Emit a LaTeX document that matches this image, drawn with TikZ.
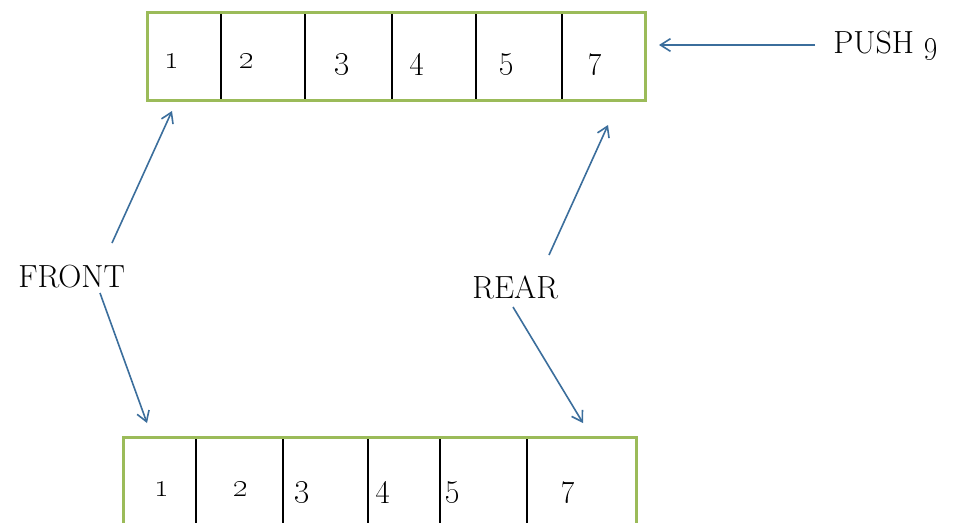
\documentclass[tikz,border=0pt]{standalone}
\usepackage{tikz}
\usetikzlibrary{arrows.meta}

\definecolor{verdeborde}{HTML}{9BBB59}
\definecolor{azulflecha}{HTML}{3B6E9C}

\begin{document}
\begin{tikzpicture}[
            x=0.75pt, y=-0.75pt,                % Coordenadas en pixeles de la imagen
            celda/.style={
                rectangle,
                draw=black,
                line width=1pt,
                inner sep=0pt,
                minimum height=65.25pt
            },
            borde/.style={
                draw=verdeborde,
                line width=2.4pt
            },
            numero/.style={
                anchor=base,
                inner sep=0pt,
                font=\fontsize{24}{28}\selectfont
            },
            etiqueta/.style={
                anchor=base west,
                inner sep=0pt,
                font=\fontsize{24}{28}\selectfont
            },
            flecha/.style={
                draw=azulflecha,
                line width=1.2pt,
                -{Straight Barb[length=7.5pt, width=9.5pt]}
            }
        ]
            \useasboundingbox (0,0) rectangle (963,522);
            \fill[white] (0,0) rectangle (963,522);
            \clip (0,0) rectangle (963,522);

            % --- COLA DE ARRIBA ---
            \foreach \a/\b [count=\i] in {148/221, 221/305, 305/392, 392/476, 476/562, 562/645}
                \node [celda, minimum width=(\b-\a)*0.75pt] (arriba\i) at ({(\a+\b)/2}, 56.5) {};
            \draw [borde] (arriba1.north west) rectangle (arriba6.south east);

            \foreach \x/\n [count=\i] in {172/1, 247/2, 342/3, 417/4, 507/5, 595/7}
                \node [numero] (narriba\i) at (\x, 68) {\oldstylenums{\n}};

            % --- COLA DE ABAJO ---
            \foreach \a/\b [count=\i] in {124/196, 196/283, 283/368, 368/440, 440/527, 527/636}
                \node [celda, minimum width=(\b-\a)*0.75pt, minimum height=80.25pt] (abajo\i) at ({(\a+\b)/2}, 491.5) {};
            \draw [borde] (abajo1.north west) rectangle (abajo6.south east);

            \foreach \x/\n [count=\i] in {162/1, 241/2, 302/3, 383/4, 453/5, 568/7}
                \node [numero] (nabajo\i) at (\x, 496) {\oldstylenums{\n}};

            % --- ETIQUETAS ---
            \node [etiqueta] (front) at (18, 287) {FRONT};
            \node [etiqueta] (rear) at (472, 298) {REAR};
            \node [etiqueta] (push) at (833, 53) {PUSH \oldstylenums{9}};

            % --- PUNTAS DE FLECHAS ---
            \coordinate (front-sube) at (112, 243);
            \coordinate (front-arriba) at (172, 111);
            \coordinate (front-baja) at (100, 293);
            \coordinate (front-abajo) at (147, 423);
            \coordinate (rear-sube) at (549, 255);
            \coordinate (rear-arriba) at (608, 125);
            \coordinate (rear-baja) at (513, 307);
            \coordinate (rear-abajo) at (583, 423);
            \coordinate (push-sale) at (815, 45);
            \coordinate (push-llega) at (659, 45);

            % --- ENLACES ---
            \path [flecha] (front-sube) -- (front-arriba);
            \path [flecha] (front-baja) -- (front-abajo);
            \path [flecha] (rear-sube) -- (rear-arriba);
            \path [flecha] (rear-baja) -- (rear-abajo);
            \path [flecha] (push-sale) -- (push-llega);
        \end{tikzpicture}
\end{document}
